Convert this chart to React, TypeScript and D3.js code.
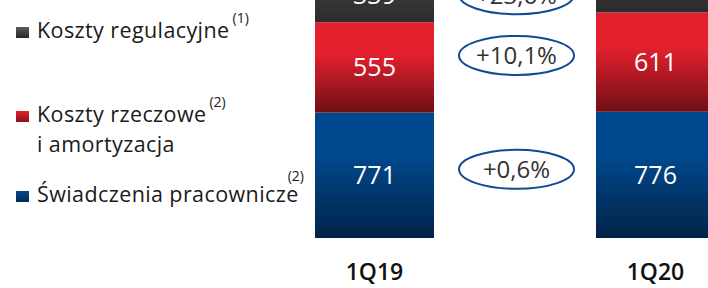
import React from 'react';
import * as d3 from 'd3';

// ---- data ----
const categories = ['1Q19', '1Q20'];
const employeeBenefits = [771, 776];
const overheadAndDepreciation = [555, 611];
const regulatoryCosts = [339, 419];
const changeLabels = ['+0,6%', '+10,1%', '+23,6%'];
const seriesKeys = ['employee', 'overhead', 'regulatory'];
const legendLabels = [
  { key: 'regulatory', lines: ['Koszty regulacyjne'], note: '(1)' },
  { key: 'overhead', lines: ['Koszty rzeczowe', 'i amortyzacja'], note: '(2)' },
  { key: 'employee', lines: ['Świadczenia pracownicze'], note: '(2)' },
];

// ---- layout / style ----
const W = 708;
const H = 288;
const FONT = "'Open Sans', 'Noto Sans', sans-serif";
const LEGEND_FONT = "'Open Sans', 'Noto Sans', sans-serif";
const gradients: Record<string, [string, string]> = {
  employee: ['#00488d', '#012348'],
  overhead: ['#e4202e', '#6f0f15'],
  regulatory: ['#3c3c3c', '#2c2c2c'],
};
const legendGradients: Record<string, [string, string]> = {
  employee: ['#004c94', '#012a55'],
  overhead: ['#e52330', '#8a1119'],
  regulatory: ['#5c5c5c', '#262626'],
};
const badgeOffset = [-6, -12, 0]; // px shift of change badge vs 1Q19 segment centre

export default function App() {
  const rows = categories.map((c, i) => ({
    cat: c,
    employee: employeeBenefits[i],
    overhead: overheadAndDepreciation[i],
    regulatory: regulatoryCosts[i],
  }));
  const stack = d3.stack<any>().keys(seriesKeys)(rows);

  const x = d3.scaleBand().domain(categories).range([315, 715]).paddingInner(0.5765).paddingOuter(0);
  const y = d3.scaleLinear().domain([0, 1463]).range([238, 0]);
  const bw = x.bandwidth();
  const gapMid = (x(categories[0])! + bw + x(categories[1])!) / 2;

  return (
    <div style={{ position: 'fixed', left: 0, top: 0, width: W, height: H, background: '#fff' }}>
      <svg width={W} height={H} style={{ display: 'block' }}>
        <defs>
          {seriesKeys.map((k) => (
            <linearGradient key={k} id={`g-${k}`} x1="0" y1="0" x2="0" y2="1">
              <stop offset="0" stopColor={gradients[k][0]} />
              <stop offset="0.35" stopColor={gradients[k][0]} />
              <stop offset="1" stopColor={gradients[k][1]} />
            </linearGradient>
          ))}
          {seriesKeys.map((k) => (
            <linearGradient key={k} id={`lg-${k}`} x1="0" y1="0" x2="0" y2="1">
              <stop offset="0" stopColor={legendGradients[k][0]} />
              <stop offset="1" stopColor={legendGradients[k][1]} />
            </linearGradient>
          ))}
        </defs>

        {/* bars */}
        {stack.map((layer) =>
          layer.map((d: any, i: number) => {
            const x0 = x(categories[i])!;
            const top = y(d[1]);
            const bot = y(d[0]);
            return (
              <g key={layer.key + i}>
                <rect x={x0} y={top} width={bw} height={bot - top} fill={`url(#g-${layer.key})`} />
                <text
                  x={x0 + bw / 2}
                  y={(top + bot) / 2 + 9}
                  textAnchor="middle"
                  fill="#fff"
                  fontFamily={FONT}
                  fontSize={25}
                >
                  {d[1] - d[0]}
                </text>
              </g>
            );
          })
        )}

        {/* change badges */}
        {stack.map((layer, li) => {
          const d: any = layer[0];
          const cy = (y(d[0]) + y(d[1])) / 2 + badgeOffset[li];
          return (
            <g key={'b' + layer.key}>
              <ellipse cx={gapMid + 1.5} cy={cy} rx={57.5} ry={19.5} fill="#fff" stroke="#0f4c92" strokeWidth={2} />
              <text x={gapMid + 1.5} y={cy + 9} textAnchor="middle" fill="#333" fontFamily={FONT} fontSize={24}>
                {changeLabels[li]}
              </text>
            </g>
          );
        })}

        {/* category labels */}
        {categories.map((c) => (
          <text
            key={c}
            x={x(c)! + bw / 2}
            y={280}
            textAnchor="middle"
            fill="#111"
            fontFamily={FONT}
            fontSize={23}
            fontWeight={600}
          >
            {c}
          </text>
        ))}

        {/* legend */}
        {legendLabels.map((l, i) => {
          const base = [38, 122, 202][i];
          return (
            <g key={l.key}>
              <rect x={16} y={base - 11} width={13} height={11} fill={`url(#lg-${l.key})`} />
              {l.lines.map((t, j) => (
                <text key={j} x={37} y={base + j * 30} fill="#1a1a1a" fontFamily={LEGEND_FONT} fontSize={21.5} letterSpacing={0.4}>
                  {t}
                  {j === 0 && i < 2 ? (
                    <tspan dx={3} dy={-15} fontSize={14} letterSpacing={0}>
                      {l.note}
                    </tspan>
                  ) : null}
                </text>
              ))}
              {i === 2 ? (
                <text x={304} y={base - 21} textAnchor="end" fill="#1a1a1a" fontFamily={LEGEND_FONT} fontSize={14}>
                  {l.note}
                </text>
              ) : null}
            </g>
          );
        })}
      </svg>
    </div>
  );
}
